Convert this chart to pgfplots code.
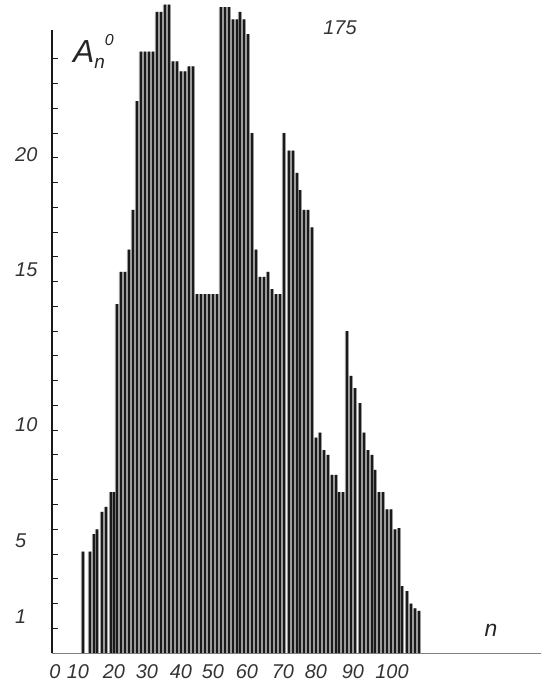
\documentclass[border=0pt]{standalone}
\usepackage{pgfplots}
\pgfplotsset{compat=1.18}
\usepackage{pgfplotstable}
\usepackage{fontspec}
\setmainfont{Liberation Sans}
\definecolor{barblack}{HTML}{1A1A1A}
\definecolor{bargrey}{HTML}{AEAEAE}
\definecolor{axisgrey}{HTML}{808080}
\pgfplotstableread{
n A
83 4.1
90 4.1
94 4.8
97 5.0
102 5.7
106 5.9
111 6.5
114 6.5
117 14.1
121 15.4
125 15.4
129 16.3
133 17.9
137 22.3
141 24.3
145 24.3
149 24.3
153 24.3
157 25.9
161 25.9
165 26.2
169 26.2
173 23.9
177 23.9
181 23.5
185 23.5
189 23.7
193 23.7
197 14.5
201 14.5
205 14.5
209 14.5
213 14.5
217 14.5
221 26.1
225 26.1
229 26.1
233 25.6
237 25.6
240 25.9
244 25.6
248 25.0
252 21.0
256 16.3
260 15.2
264 15.2
268 15.4
272 14.7
276 14.5
280 14.5
284 21.0
289 20.3
293 20.3
297 19.4
300 18.7
304 17.9
308 17.9
312 17.2
316 8.7
320 8.9
324 8.2
328 8.0
332 7.2
336 7.2
339 6.5
343 6.5
347 13.0
351 11.2
355 10.7
360 10.1
364 8.9
368 8.2
372 8.0
375 7.4
379 6.5
383 6.5
387 5.8
391 5.8
395 5.0
399 5.05
402 2.7
407 2.5
411 2.0
415 1.8
419 1.7
}\bars
\begin{document}
\begin{tikzpicture}
\begin{axis}[
  scale only axis, width=489bp, height=623bp,
  xmin=52, xmax=541, ymin=0, ymax=25.17,
  clip=false,
  axis lines=left,
  x axis line style={axisgrey, line width=1bp, -},
  y axis line style={barblack, line width=1.6bp, -},
  tick align=inside,
  ytick={1,...,24}, yticklabels={},
  major tick length=6bp,
  ytick style={barblack, line width=1bp},
  extra y ticks={1.45,4.53,9.21,15.47,20.12},
  extra y tick labels={1,5,10,15,20},
  extra y tick style={major tick length=0pt},
  yticklabel style={anchor=west, inner sep=0pt, xshift=-37bp},
  xtick={55,78,114,147,181,213,247,283,316,353,392},
  xticklabels={0,10,20,30,40,50,60,70,80,90,100},
  xtick style={draw=none},
  xticklabel style={anchor=center, inner sep=0pt, yshift=-19bp},
  tick label style={font=\fontsize{20}{20}\selectfont\itshape, text=black!80},
  /pgf/number format/assume math mode=true,
]
\addplot[ybar, bar width=4bp, bar shift=0pt, fill=bargrey, draw=none] table[x=n,y=A]{\bars};
\addplot[ybar, bar width=2.3bp, bar shift=0pt, fill=barblack, draw=none] table[x=n,y=A]{\bars};
\node[anchor=base west, inner sep=0pt, text=black!85] at (axis cs:73,23.84) {\itshape\fontsize{32}{32}\selectfont A\raisebox{-0.16em}{\fontsize{19}{19}\selectfont n}\raisebox{0.56em}{\fontsize{16}{16}\selectfont 0}};
\node[anchor=base, inner sep=0pt, text=black!80] at (axis cs:340,24.97) {\itshape\fontsize{20}{20}\selectfont 175};
\node[anchor=base, inner sep=0pt, text=black!85] at (axis cs:491,0.65) {\itshape\fontsize{23}{23}\selectfont n};
\path (axis cs:0,-1.2525) rectangle (axis cs:541,26.384);
\end{axis}
\end{tikzpicture}
\end{document}
